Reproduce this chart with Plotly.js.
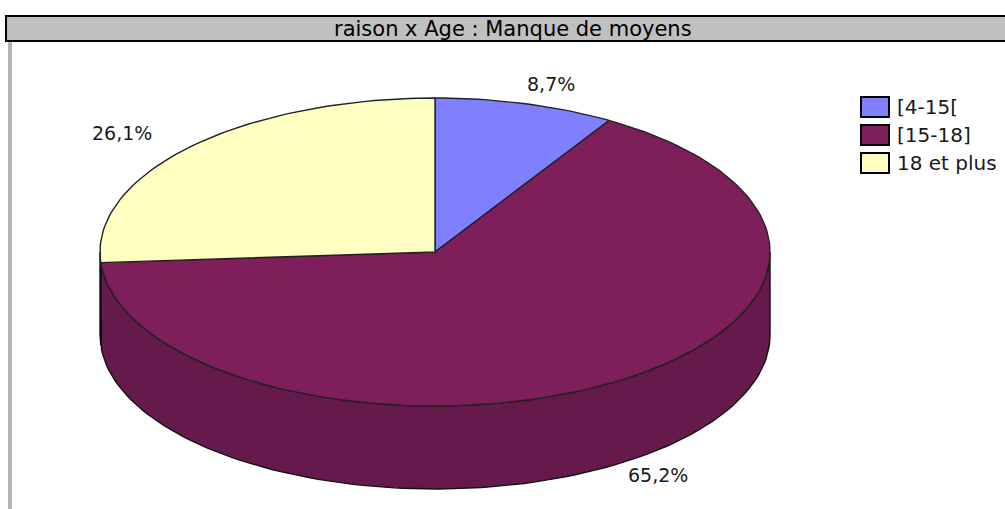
<!DOCTYPE html>
<html>
<head>
<meta charset="utf-8">
<script src="https://cdn.plot.ly/plotly-3.0.1.min.js"></script>
<style>html,body{margin:0;padding:0;background:#fff;}#chart{width:1005px;height:509px;}</style>
</head>
<body>
<div id="chart"></div>
<script>
// ---- data ----
var chartTitle = "raison x Age : Manque de moyens";
var categories = ["[4-15[", "[15-18]", "18 et plus"];
var percentages = [8.7, 65.2, 26.1];
var topColors = ["#8080ff", "#7e1f5c", "#ffffc2"];
var sideColors = ["#6060c0", "#661a4c", "#e8e8a8"];

// ---- geometry of the pseudo-3D elliptical pie (pixel space) ----
var W = 1005, H = 509;
var cx = 435, cy = 252, rx = 335, ry = 154, depth = 83;

function pt(deg, dy) {
  var r = deg * Math.PI / 180;
  return [cx + rx * Math.sin(r), cy - ry * Math.cos(r) + dy];
}
function arc(a, b, dy) {
  var n = Math.max(2, Math.ceil(Math.abs(b - a) / 1.5));
  var xs = [], ys = [];
  for (var i = 0; i <= n; i++) {
    var p = pt(a + (b - a) * i / n, dy);
    xs.push(p[0]); ys.push(p[1]);
  }
  return [xs, ys];
}

var total = percentages.reduce(function (s, v) { return s + v; }, 0);
var starts = [], ends = [];
var acc = 0;
percentages.forEach(function (v) {
  starts.push(acc / total * 360);
  acc += v;
  ends.push(acc / total * 360);
});

var traces = [];
// side walls (visible front half: 90..270 deg measured clockwise from top)
percentages.forEach(function (v, i) {
  var a = Math.max(starts[i], 90), b = Math.min(ends[i], 270);
  if (b <= a) return;
  var top = arc(a, b, 0), bot = arc(b, a, depth);
  traces.push({
    type: "scatter", mode: "lines", fill: "toself",
    x: top[0].concat(bot[0]).concat([top[0][0]]),
    y: top[1].concat(bot[1]).concat([top[1][0]]),
    fillcolor: sideColors[i], line: {color: "#111", width: 1.4},
    hoverinfo: "skip", showlegend: false
  });
});
// top faces
percentages.forEach(function (v, i) {
  var t = arc(starts[i], ends[i], 0);
  traces.push({
    type: "scatter", mode: "lines", fill: "toself",
    x: [cx].concat(t[0]).concat([cx]),
    y: [cy].concat(t[1]).concat([cy]),
    fillcolor: topColors[i], line: {color: "#222", width: 1.4},
    hoverinfo: "skip", showlegend: false
  });
});

var textFont = "DejaVu Sans, Arial, sans-serif";

// percentage labels
var annotations = percentages.map(function (v, i) {
  var mid = (starts[i] + ends[i]) / 2;
  var r = mid * Math.PI / 180;
  var front = (mid > 90 && mid < 270) ? depth * 0.9 : 0;
  return {
    x: cx + rx * 1.28 * Math.sin(r),
    y: cy - ry * 1.13 * Math.cos(r) + front,
    xref: "x", yref: "y", showarrow: false,
    text: v.toFixed(1).replace(".", ",") + "%",
    font: {family: textFont, size: 19, color: "#1a1a1a"}
  };
});

// title bar & frame
var shapes = [
  {type: "rect", xref: "x", yref: "y", x0: 6, x1: 1012, y0: 16, y1: 41,
   fillcolor: "#c0c0c0", line: {color: "#000", width: 2}, layer: "below"},
  {type: "line", xref: "x", yref: "y", x0: 10, x1: 10, y0: 42, y1: 512,
   line: {color: "#b4b4b4", width: 4}, layer: "below"}
];
annotations.push({
  x: 513, y: 29, xref: "x", yref: "y", showarrow: false,
  text: chartTitle,
  font: {family: textFont, size: 21, color: "#000"}
});

// legend
categories.forEach(function (c, i) {
  var y0 = 97 + i * 28;
  shapes.push({type: "rect", xref: "x", yref: "y", x0: 861, x1: 889, y0: y0, y1: y0 + 20,
    fillcolor: topColors[i], line: {color: "#000", width: 2}});
  annotations.push({x: 895, y: y0 + 10, xref: "x", yref: "y", xanchor: "left", showarrow: false,
    text: c, font: {family: textFont, size: 20, color: "#1a1a1a"}});
});

var layout = {
  width: W, height: H,
  margin: {l: 0, r: 0, t: 0, b: 0},
  paper_bgcolor: "#fff", plot_bgcolor: "#fff",
  xaxis: {range: [0, W], visible: false, fixedrange: true},
  yaxis: {range: [H, 0], visible: false, fixedrange: true},
  showlegend: false,
  shapes: shapes,
  annotations: annotations
};

Plotly.newPlot("chart", traces, layout, {displayModeBar: false, staticPlot: true});
</script>
</body>
</html>
